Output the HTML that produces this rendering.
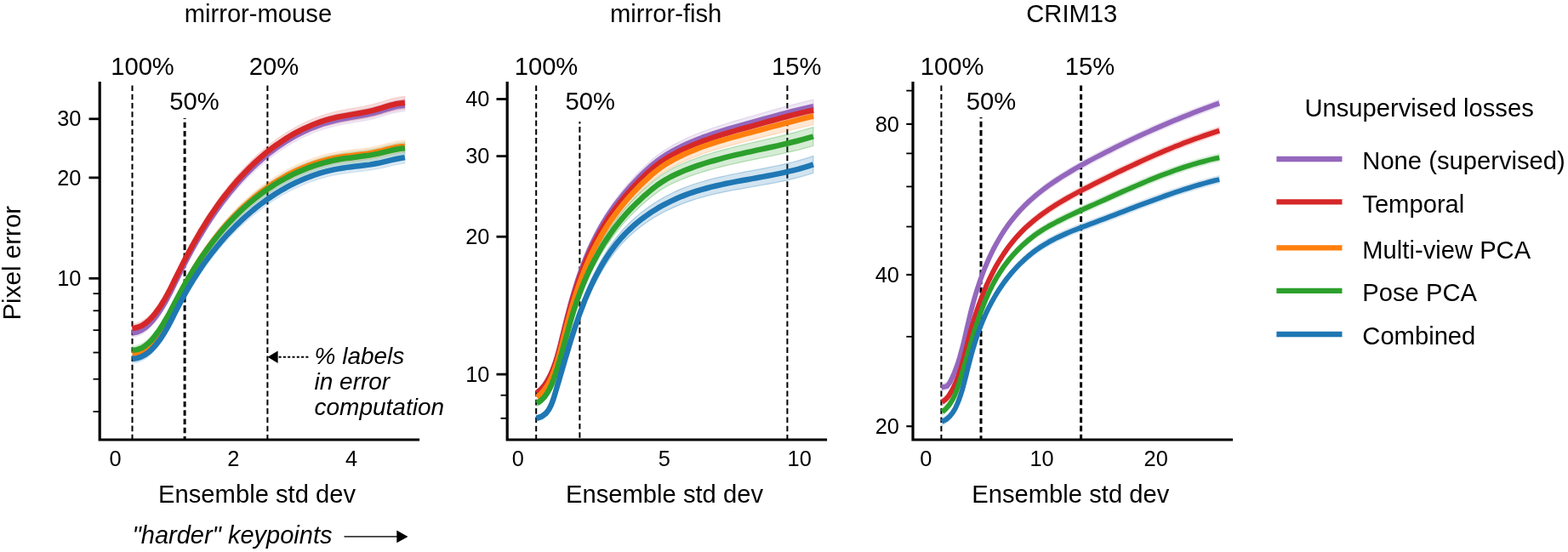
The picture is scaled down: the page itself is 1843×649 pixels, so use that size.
<!DOCTYPE html><html><head><meta charset="utf-8"><style>html,body{margin:0;padding:0;background:#fff;}svg{display:block;}text{font-family:"Liberation Sans", Arial, Helvetica, sans-serif;fill:#000;}</style></head><body>
<svg width="1843" height="649" viewBox="0 0 1843 649">
<rect width="1843" height="649" fill="#fff"/>
<text x="303.4" y="25.5" font-size="29.2" text-anchor="middle">mirror-mouse</text>
<text x="782.7" y="25.5" font-size="29.2" text-anchor="middle">mirror-fish</text>
<text x="1259.8" y="25.5" font-size="29.2" text-anchor="middle">CRIM13</text>
<text x="167.5" y="88.4" font-size="29.2" text-anchor="middle">100%</text>
<text x="228.4" y="129.0" font-size="29.2" text-anchor="middle">50%</text>
<text x="321.9" y="88.4" font-size="29.2" text-anchor="middle">20%</text>
<text x="642.0" y="88.2" font-size="29.2" text-anchor="middle">100%</text>
<text x="693.7" y="129.4" font-size="29.2" text-anchor="middle">50%</text>
<text x="936.2" y="88.2" font-size="29.2" text-anchor="middle">15%</text>
<text x="1119.2" y="88.2" font-size="29.2" text-anchor="middle">100%</text>
<text x="1165.0" y="129.4" font-size="29.2" text-anchor="middle">50%</text>
<text x="1280.9" y="88.2" font-size="29.2" text-anchor="middle">15%</text>
<line x1="155.5" y1="100.4" x2="155.5" y2="517.0" stroke="#000" stroke-width="2.0" stroke-dasharray="6.6 3.66" stroke-dashoffset="0.0"/>
<line x1="217.1" y1="139.1" x2="217.1" y2="517.0" stroke="#000" stroke-width="3.0" stroke-dasharray="6.6 3.66" stroke-dashoffset="5.7"/>
<line x1="314.4" y1="100.5" x2="314.4" y2="517.0" stroke="#000" stroke-width="2.0" stroke-dasharray="6.6 3.66" stroke-dashoffset="0.0"/>
<path d="M155.4,386.6 L161.3,385.2 L166.4,382.9 L171.0,379.8 L175.2,376.2 L178.9,372.1 L182.4,367.8 L185.6,363.3 L188.7,358.6 L191.6,353.9 L194.4,349.1 L197.1,344.2 L199.7,339.2 L202.2,334.2 L204.6,329.1 L207.1,324.0 L209.6,319.0 L212.0,313.9 L214.6,308.8 L217.1,303.8 L219.7,298.8 L222.3,293.8 L225.0,288.8 L227.7,283.9 L230.5,278.9 L233.3,274.1 L236.2,269.2 L239.1,264.4 L242.0,259.6 L245.1,254.8 L248.1,250.1 L251.3,245.5 L254.5,240.8 L257.7,236.2 L261.0,231.7 L264.4,227.2 L267.9,222.8 L271.4,218.4 L275.0,214.1 L278.6,209.8 L282.4,205.6 L286.2,201.5 L290.0,197.4 L294.0,193.4 L298.0,189.5 L302.1,185.7 L306.3,181.9 L310.6,178.3 L314.9,174.8 L319.3,171.3 L323.7,168.0 L328.3,164.8 L332.9,161.7 L337.6,158.7 L342.3,155.8 L347.1,153.1 L352.0,150.5 L357.0,148.0 L362.0,145.7 L367.1,143.5 L372.3,141.4 L377.5,139.5 L382.8,137.8 L388.2,136.2 L393.7,134.8 L399.2,133.6 L404.7,132.5 L410.3,131.4 L415.9,130.5 L421.5,129.5 L427.1,128.4 L432.7,127.3 L438.1,126.1 L443.5,124.6 L448.8,123.0 L454.1,121.4 L459.4,119.8 L464.7,118.4 L470.2,117.4 L475.9,116.8 L475.9,130.8 L470.2,131.4 L464.7,132.4 L459.4,133.7 L454.1,135.3 L448.8,136.9 L443.5,138.5 L438.1,139.9 L432.7,141.1 L427.1,142.2 L421.5,143.2 L415.9,144.1 L410.3,145.1 L404.7,146.0 L399.2,147.1 L393.7,148.3 L388.2,149.7 L382.8,151.3 L377.5,153.0 L372.3,154.8 L367.1,156.8 L362.0,159.0 L357.0,161.3 L352.0,163.8 L347.1,166.3 L342.3,169.1 L337.6,171.9 L332.9,174.9 L328.3,178.0 L323.7,181.2 L319.3,184.5 L314.9,187.9 L310.6,191.4 L306.3,195.0 L302.1,198.7 L298.0,202.5 L294.0,206.3 L290.0,210.2 L286.2,214.2 L282.4,218.3 L278.6,222.4 L275.0,226.6 L271.4,230.8 L267.9,235.1 L264.4,239.5 L261.0,243.9 L257.7,248.4 L254.5,252.9 L251.3,257.4 L248.1,262.1 L245.1,266.7 L242.0,271.4 L239.1,276.1 L236.2,280.9 L233.3,285.7 L230.5,290.5 L227.7,295.4 L225.0,300.3 L222.3,305.2 L219.7,310.1 L217.1,315.1 L214.6,320.1 L212.0,325.1 L209.6,330.1 L207.1,335.1 L204.6,340.1 L202.2,345.1 L199.7,350.1 L197.1,355.0 L194.4,359.9 L191.6,364.6 L188.7,369.3 L185.6,373.9 L182.4,378.3 L178.9,382.6 L175.2,386.6 L171.0,390.2 L166.4,393.1 L161.3,395.3 L155.4,396.6 Z" fill="#9467bd" fill-opacity="0.16" stroke="#9467bd" stroke-opacity="0.12" stroke-width="1.2"/>
<path d="M155.4,381.1 L161.3,379.9 L166.5,377.8 L171.1,374.8 L175.3,371.2 L179.1,367.2 L182.6,362.9 L185.9,358.5 L189.0,353.9 L191.9,349.2 L194.7,344.4 L197.4,339.5 L200.0,334.5 L202.5,329.5 L204.9,324.5 L207.4,319.5 L209.9,314.4 L212.4,309.4 L214.9,304.3 L217.4,299.3 L220.0,294.3 L222.7,289.4 L225.4,284.4 L228.1,279.5 L230.9,274.6 L233.7,269.7 L236.5,264.9 L239.5,260.1 L242.4,255.3 L245.4,250.6 L248.5,245.9 L251.7,241.3 L254.9,236.7 L258.1,232.1 L261.4,227.6 L264.8,223.2 L268.3,218.8 L271.8,214.4 L275.4,210.1 L279.0,205.9 L282.8,201.7 L286.6,197.6 L290.5,193.6 L294.4,189.6 L298.4,185.7 L302.5,181.9 L306.7,178.2 L311.0,174.6 L315.3,171.1 L319.7,167.6 L324.1,164.3 L328.7,161.1 L333.3,158.0 L337.9,155.0 L342.7,152.2 L347.5,149.4 L352.4,146.8 L357.3,144.4 L362.4,142.1 L367.4,139.9 L372.6,137.8 L377.8,136.0 L383.1,134.2 L388.5,132.7 L393.9,131.3 L399.4,130.1 L405.0,129.0 L410.6,127.9 L416.1,127.0 L421.7,126.0 L427.3,125.0 L432.8,123.8 L438.2,122.6 L443.6,121.1 L448.9,119.5 L454.1,117.9 L459.4,116.3 L464.8,114.9 L470.3,113.9 L475.9,113.3 L475.9,128.3 L470.3,128.8 L464.8,129.8 L459.4,131.1 L454.1,132.6 L448.9,134.2 L443.6,135.8 L438.2,137.1 L432.8,138.3 L427.3,139.4 L421.7,140.4 L416.1,141.3 L410.6,142.2 L405.0,143.2 L399.4,144.2 L393.9,145.4 L388.5,146.7 L383.1,148.2 L377.8,149.8 L372.6,151.7 L367.4,153.6 L362.4,155.8 L357.3,158.0 L352.4,160.4 L347.5,163.0 L342.7,165.7 L337.9,168.5 L333.3,171.4 L328.7,174.4 L324.1,177.6 L319.7,180.9 L315.3,184.2 L311.0,187.7 L306.7,191.3 L302.5,194.9 L298.4,198.7 L294.4,202.5 L290.5,206.4 L286.6,210.3 L282.8,214.4 L279.0,218.5 L275.4,222.6 L271.8,226.9 L268.3,231.1 L264.8,235.5 L261.4,239.8 L258.1,244.3 L254.9,248.8 L251.7,253.3 L248.5,257.9 L245.4,262.5 L242.4,267.2 L239.5,271.9 L236.5,276.6 L233.7,281.4 L230.9,286.2 L228.1,291.0 L225.4,295.9 L222.7,300.8 L220.0,305.7 L217.4,310.6 L214.9,315.6 L212.4,320.5 L209.9,325.5 L207.4,330.5 L204.9,335.5 L202.5,340.5 L200.0,345.5 L197.4,350.4 L194.7,355.2 L191.9,359.9 L189.0,364.6 L185.9,369.1 L182.6,373.5 L179.1,377.7 L175.3,381.7 L171.1,385.1 L166.5,388.0 L161.3,390.0 L155.4,391.1 Z" fill="#d62728" fill-opacity="0.16" stroke="#d62728" stroke-opacity="0.12" stroke-width="1.2"/>
<path d="M155.6,411.3 L161.3,410.4 L166.4,408.4 L170.8,405.6 L174.8,402.1 L178.4,398.1 L181.7,393.9 L184.8,389.5 L187.7,385.0 L190.5,380.4 L193.2,375.7 L195.8,371.0 L198.4,366.2 L200.9,361.4 L203.3,356.5 L205.7,351.6 L208.2,346.8 L210.7,341.9 L213.2,337.0 L215.8,332.2 L218.4,327.4 L221.1,322.6 L223.8,317.8 L226.6,313.1 L229.4,308.4 L232.3,303.7 L235.3,299.1 L238.3,294.5 L241.4,290.0 L244.5,285.5 L247.7,281.0 L251.0,276.7 L254.3,272.3 L257.7,268.0 L261.1,263.8 L264.6,259.6 L268.2,255.5 L271.9,251.5 L275.6,247.5 L279.4,243.6 L283.2,239.8 L287.2,236.0 L291.2,232.4 L295.3,228.8 L299.4,225.3 L303.6,221.9 L307.9,218.6 L312.3,215.4 L316.7,212.3 L321.2,209.3 L325.7,206.4 L330.4,203.6 L335.0,200.9 L339.8,198.3 L344.6,195.9 L349.4,193.6 L354.3,191.4 L359.3,189.3 L364.3,187.4 L369.4,185.6 L374.5,183.9 L379.7,182.4 L384.9,181.0 L390.2,179.8 L395.6,178.7 L400.9,177.7 L406.4,177.0 L411.8,176.3 L417.3,175.6 L422.7,175.0 L428.2,174.3 L433.6,173.5 L438.9,172.5 L444.2,171.4 L449.5,170.1 L454.7,168.8 L459.9,167.5 L465.1,166.3 L470.5,165.4 L475.9,164.9 L475.9,178.9 L470.5,179.4 L465.1,180.3 L459.9,181.4 L454.7,182.7 L449.5,184.0 L444.2,185.2 L438.9,186.3 L433.6,187.2 L428.2,188.0 L422.7,188.7 L417.3,189.3 L411.8,189.9 L406.4,190.6 L400.9,191.3 L395.6,192.2 L390.2,193.3 L384.9,194.5 L379.7,195.8 L374.5,197.3 L369.4,199.0 L364.3,200.7 L359.3,202.7 L354.3,204.7 L349.4,206.9 L344.6,209.2 L339.8,211.6 L335.0,214.1 L330.4,216.8 L325.7,219.5 L321.2,222.4 L316.7,225.4 L312.3,228.4 L307.9,231.6 L303.6,234.9 L299.4,238.2 L295.3,241.7 L291.2,245.2 L287.2,248.8 L283.2,252.4 L279.4,256.2 L275.6,260.0 L271.9,263.9 L268.2,267.9 L264.6,271.9 L261.1,276.0 L257.7,280.1 L254.3,284.4 L251.0,288.6 L247.7,293.0 L244.5,297.3 L241.4,301.8 L238.3,306.2 L235.3,310.8 L232.3,315.3 L229.4,319.9 L226.6,324.6 L223.8,329.2 L221.1,333.9 L218.4,338.7 L215.8,343.4 L213.2,348.2 L210.7,353.0 L208.2,357.9 L205.7,362.7 L203.3,367.5 L200.9,372.3 L198.4,377.1 L195.8,381.8 L193.2,386.5 L190.5,391.1 L187.7,395.7 L184.8,400.1 L181.7,404.4 L178.4,408.6 L174.8,412.5 L170.8,415.9 L166.4,418.6 L161.3,420.5 L155.6,421.3 Z" fill="#ff7f0e" fill-opacity="0.16" stroke="#ff7f0e" stroke-opacity="0.12" stroke-width="1.2"/>
<path d="M155.6,406.9 L161.2,406.0 L166.3,404.1 L170.7,401.4 L174.7,398.1 L178.4,394.3 L181.7,390.2 L184.9,386.0 L187.9,381.7 L190.8,377.2 L193.5,372.6 L196.2,368.0 L198.8,363.3 L201.3,358.6 L203.8,353.8 L206.3,349.0 L208.8,344.2 L211.3,339.4 L213.9,334.6 L216.5,329.9 L219.2,325.2 L221.9,320.5 L224.7,315.8 L227.5,311.2 L230.4,306.6 L233.3,302.1 L236.3,297.5 L239.4,293.1 L242.5,288.6 L245.7,284.3 L248.9,279.9 L252.2,275.6 L255.5,271.4 L258.9,267.2 L262.4,263.1 L266.0,259.1 L269.6,255.1 L273.3,251.2 L277.0,247.3 L280.8,243.6 L284.7,239.8 L288.7,236.2 L292.7,232.7 L296.8,229.2 L300.9,225.8 L305.2,222.6 L309.5,219.4 L313.8,216.3 L318.3,213.3 L322.7,210.4 L327.3,207.7 L331.9,205.0 L336.6,202.4 L341.3,199.9 L346.0,197.6 L350.9,195.4 L355.8,193.3 L360.7,191.3 L365.7,189.4 L370.7,187.7 L375.8,186.0 L380.9,184.6 L386.1,183.2 L391.3,182.0 L396.6,181.0 L401.9,180.0 L407.3,179.2 L412.6,178.5 L418.0,177.9 L423.4,177.2 L428.7,176.5 L434.1,175.7 L439.4,174.8 L444.6,173.7 L449.8,172.4 L454.9,171.1 L460.1,169.9 L465.3,168.7 L470.6,167.8 L475.9,167.2 L475.9,181.2 L470.6,181.8 L465.3,182.7 L460.1,183.8 L454.9,185.0 L449.8,186.3 L444.6,187.5 L439.4,188.5 L434.1,189.4 L428.7,190.2 L423.4,190.9 L418.0,191.5 L412.6,192.2 L407.3,192.9 L401.9,193.6 L396.6,194.5 L391.3,195.5 L386.1,196.7 L380.9,198.0 L375.8,199.5 L370.7,201.1 L365.7,202.8 L360.7,204.6 L355.8,206.6 L350.9,208.7 L346.0,210.9 L341.3,213.2 L336.6,215.6 L331.9,218.2 L327.3,220.8 L322.7,223.6 L318.3,226.4 L313.8,229.4 L309.5,232.4 L305.2,235.6 L300.9,238.8 L296.8,242.1 L292.7,245.5 L288.7,249.0 L284.7,252.5 L280.8,256.2 L277.0,259.9 L273.3,263.6 L269.6,267.5 L266.0,271.4 L262.4,275.4 L258.9,279.4 L255.5,283.5 L252.2,287.6 L248.9,291.9 L245.7,296.1 L242.5,300.4 L239.4,304.8 L236.3,309.2 L233.3,313.7 L230.4,318.2 L227.5,322.7 L224.7,327.3 L221.9,331.9 L219.2,336.5 L216.5,341.2 L213.9,345.9 L211.3,350.6 L208.8,355.3 L206.3,360.1 L203.8,364.8 L201.3,369.5 L198.8,374.2 L196.2,378.9 L193.5,383.4 L190.8,387.9 L187.9,392.3 L184.9,396.6 L181.7,400.8 L178.4,404.8 L174.7,408.5 L170.7,411.7 L166.3,414.3 L161.2,416.1 L155.6,416.9 Z" fill="#2ca02c" fill-opacity="0.16" stroke="#2ca02c" stroke-opacity="0.12" stroke-width="1.2"/>
<path d="M155.6,417.0 L161.2,416.1 L166.2,414.2 L170.8,411.7 L175.0,408.6 L178.8,405.0 L182.3,401.2 L185.6,397.1 L188.7,392.9 L191.6,388.5 L194.3,383.9 L197.0,379.3 L199.5,374.6 L202.0,369.8 L204.4,364.9 L206.8,360.1 L209.3,355.2 L211.7,350.4 L214.3,345.6 L216.9,340.8 L219.5,336.1 L222.2,331.4 L225.0,326.7 L227.8,322.1 L230.7,317.6 L233.6,313.0 L236.6,308.6 L239.7,304.1 L242.8,299.8 L246.0,295.4 L249.3,291.1 L252.6,286.9 L255.9,282.7 L259.4,278.6 L262.9,274.5 L266.4,270.5 L270.1,266.5 L273.8,262.6 L277.5,258.8 L281.4,255.0 L285.3,251.3 L289.2,247.7 L293.3,244.1 L297.4,240.6 L301.5,237.2 L305.7,234.0 L310.0,230.8 L314.3,227.7 L318.7,224.7 L323.2,221.8 L327.7,218.9 L332.2,216.2 L336.9,213.6 L341.6,211.1 L346.3,208.8 L351.1,206.5 L355.9,204.4 L360.8,202.4 L365.8,200.5 L370.8,198.7 L375.9,197.1 L381.0,195.6 L386.1,194.2 L391.4,193.0 L396.6,191.9 L401.9,191.0 L407.3,190.2 L412.7,189.5 L418.1,188.9 L423.4,188.3 L428.8,187.6 L434.2,186.9 L439.5,186.0 L444.7,185.0 L449.9,183.9 L455.1,182.7 L460.2,181.4 L465.4,180.3 L470.6,179.2 L475.9,178.3 L475.9,191.9 L470.6,192.8 L465.4,193.8 L460.2,195.0 L455.1,196.2 L449.9,197.4 L444.7,198.5 L439.5,199.5 L434.2,200.3 L428.8,201.0 L423.4,201.7 L418.1,202.3 L412.7,202.9 L407.3,203.6 L401.9,204.4 L396.6,205.3 L391.4,206.3 L386.1,207.5 L381.0,208.9 L375.9,210.3 L370.8,211.9 L365.8,213.7 L360.8,215.6 L355.9,217.6 L351.1,219.7 L346.3,221.9 L341.6,224.3 L336.9,226.8 L332.2,229.3 L327.7,232.0 L323.2,234.8 L318.7,237.7 L314.3,240.7 L310.0,243.8 L305.7,247.0 L301.5,250.3 L297.4,253.6 L293.3,257.0 L289.2,260.5 L285.3,264.0 L281.4,267.6 L277.5,271.3 L273.8,275.1 L270.1,278.9 L266.4,282.8 L262.9,286.7 L259.4,290.7 L255.9,294.8 L252.6,298.9 L249.3,303.1 L246.0,307.3 L242.8,311.6 L239.7,315.9 L236.6,320.3 L233.6,324.7 L230.7,329.1 L227.8,333.6 L225.0,338.2 L222.2,342.8 L219.5,347.4 L216.9,352.1 L214.3,356.8 L211.7,361.5 L209.3,366.3 L206.8,371.1 L204.4,375.9 L202.0,380.7 L199.5,385.5 L197.0,390.2 L194.3,394.7 L191.6,399.2 L188.7,403.6 L185.6,407.7 L182.3,411.7 L178.8,415.5 L175.0,419.0 L170.8,422.0 L166.2,424.5 L161.2,426.2 L155.6,427.0 Z" fill="#1f77b4" fill-opacity="0.16" stroke="#1f77b4" stroke-opacity="0.12" stroke-width="1.2"/>
<path d="M155.4,391.6 L161.3,390.3 L166.4,388.0 L171.0,385.0 L175.2,381.4 L178.9,377.4 L182.4,373.0 L185.6,368.6 L188.7,364.0 L191.6,359.3 L194.4,354.5 L197.1,349.6 L199.7,344.6 L202.2,339.7 L204.6,334.6 L207.1,329.6 L209.6,324.5 L212.0,319.5 L214.6,314.5 L217.1,309.4 L219.7,304.5 L222.3,299.5 L225.0,294.5 L227.7,289.6 L230.5,284.7 L233.3,279.9 L236.2,275.0 L239.1,270.2 L242.0,265.5 L245.1,260.8 L248.1,256.1 L251.3,251.4 L254.5,246.9 L257.7,242.3 L261.0,237.8 L264.4,233.4 L267.9,229.0 L271.4,224.6 L275.0,220.3 L278.6,216.1 L282.4,211.9 L286.2,207.8 L290.0,203.8 L294.0,199.9 L298.0,196.0 L302.1,192.2 L306.3,188.5 L310.6,184.8 L314.9,181.3 L319.3,177.9 L323.7,174.6 L328.3,171.4 L332.9,168.3 L337.6,165.3 L342.3,162.4 L347.1,159.7 L352.0,157.1 L357.0,154.6 L362.0,152.3 L367.1,150.1 L372.3,148.1 L377.5,146.2 L382.8,144.5 L388.2,143.0 L393.7,141.6 L399.2,140.3 L404.7,139.3 L410.3,138.2 L415.9,137.3 L421.5,136.3 L427.1,135.3 L432.7,134.2 L438.1,133.0 L443.5,131.5 L448.8,130.0 L454.1,128.3 L459.4,126.8 L464.7,125.4 L470.2,124.4 L475.9,123.8" fill="none" stroke="#9467bd" stroke-width="6.5" stroke-linecap="butt" stroke-linejoin="round"/>
<path d="M155.4,386.1 L161.3,385.0 L166.5,382.9 L171.1,380.0 L175.3,376.4 L179.1,372.5 L182.6,368.2 L185.9,363.8 L189.0,359.2 L191.9,354.6 L194.7,349.8 L197.4,344.9 L200.0,340.0 L202.5,335.0 L204.9,330.0 L207.4,325.0 L209.9,320.0 L212.4,315.0 L214.9,309.9 L217.4,305.0 L220.0,300.0 L222.7,295.1 L225.4,290.1 L228.1,285.2 L230.9,280.4 L233.7,275.5 L236.5,270.7 L239.5,266.0 L242.4,261.3 L245.4,256.6 L248.5,251.9 L251.7,247.3 L254.9,242.7 L258.1,238.2 L261.4,233.7 L264.8,229.3 L268.3,225.0 L271.8,220.6 L275.4,216.4 L279.0,212.2 L282.8,208.0 L286.6,204.0 L290.5,200.0 L294.4,196.0 L298.4,192.2 L302.5,188.4 L306.7,184.7 L311.0,181.1 L315.3,177.6 L319.7,174.2 L324.1,171.0 L328.7,167.8 L333.3,164.7 L337.9,161.7 L342.7,158.9 L347.5,156.2 L352.4,153.6 L357.3,151.2 L362.4,148.9 L367.4,146.8 L372.6,144.8 L377.8,142.9 L383.1,141.2 L388.5,139.7 L393.9,138.3 L399.4,137.1 L405.0,136.1 L410.6,135.1 L416.1,134.1 L421.7,133.2 L427.3,132.2 L432.8,131.1 L438.2,129.9 L443.6,128.4 L448.9,126.9 L454.1,125.2 L459.4,123.7 L464.8,122.3 L470.3,121.4 L475.9,120.8" fill="none" stroke="#d62728" stroke-width="6.5" stroke-linecap="butt" stroke-linejoin="round"/>
<path d="M155.6,416.3 L161.3,415.4 L166.4,413.5 L170.8,410.7 L174.8,407.3 L178.4,403.4 L181.7,399.2 L184.8,394.8 L187.7,390.3 L190.5,385.8 L193.2,381.1 L195.8,376.4 L198.4,371.7 L200.9,366.9 L203.3,362.0 L205.7,357.2 L208.2,352.3 L210.7,347.5 L213.2,342.6 L215.8,337.8 L218.4,333.0 L221.1,328.3 L223.8,323.5 L226.6,318.8 L229.4,314.2 L232.3,309.5 L235.3,304.9 L238.3,300.4 L241.4,295.9 L244.5,291.4 L247.7,287.0 L251.0,282.6 L254.3,278.3 L257.7,274.1 L261.1,269.9 L264.6,265.8 L268.2,261.7 L271.9,257.7 L275.6,253.8 L279.4,249.9 L283.2,246.1 L287.2,242.4 L291.2,238.8 L295.3,235.2 L299.4,231.7 L303.6,228.4 L307.9,225.1 L312.3,221.9 L316.7,218.8 L321.2,215.8 L325.7,212.9 L330.4,210.2 L335.0,207.5 L339.8,205.0 L344.6,202.5 L349.4,200.2 L354.3,198.0 L359.3,196.0 L364.3,194.1 L369.4,192.3 L374.5,190.6 L379.7,189.1 L384.9,187.7 L390.2,186.5 L395.6,185.5 L400.9,184.5 L406.4,183.8 L411.8,183.1 L417.3,182.4 L422.7,181.8 L428.2,181.1 L433.6,180.4 L438.9,179.4 L444.2,178.3 L449.5,177.1 L454.7,175.7 L459.9,174.4 L465.1,173.3 L470.5,172.4 L475.9,171.9" fill="none" stroke="#ff7f0e" stroke-width="6.5" stroke-linecap="butt" stroke-linejoin="round"/>
<path d="M155.6,411.9 L161.2,411.1 L166.3,409.2 L170.7,406.6 L174.7,403.3 L178.4,399.6 L181.7,395.5 L184.9,391.3 L187.9,387.0 L190.8,382.6 L193.5,378.0 L196.2,373.4 L198.8,368.8 L201.3,364.1 L203.8,359.3 L206.3,354.5 L208.8,349.8 L211.3,345.0 L213.9,340.3 L216.5,335.5 L219.2,330.8 L221.9,326.2 L224.7,321.6 L227.5,317.0 L230.4,312.4 L233.3,307.9 L236.3,303.4 L239.4,298.9 L242.5,294.5 L245.7,290.2 L248.9,285.9 L252.2,281.6 L255.5,277.5 L258.9,273.3 L262.4,269.2 L266.0,265.2 L269.6,261.3 L273.3,257.4 L277.0,253.6 L280.8,249.9 L284.7,246.2 L288.7,242.6 L292.7,239.1 L296.8,235.7 L300.9,232.3 L305.2,229.1 L309.5,225.9 L313.8,222.8 L318.3,219.9 L322.7,217.0 L327.3,214.2 L331.9,211.6 L336.6,209.0 L341.3,206.6 L346.0,204.2 L350.9,202.0 L355.8,199.9 L360.7,197.9 L365.7,196.1 L370.7,194.4 L375.8,192.8 L380.9,191.3 L386.1,190.0 L391.3,188.8 L396.6,187.7 L401.9,186.8 L407.3,186.0 L412.6,185.4 L418.0,184.7 L423.4,184.0 L428.7,183.3 L434.1,182.6 L439.4,181.6 L444.6,180.6 L449.8,179.3 L454.9,178.1 L460.1,176.8 L465.3,175.7 L470.6,174.8 L475.9,174.2" fill="none" stroke="#2ca02c" stroke-width="6.5" stroke-linecap="butt" stroke-linejoin="round"/>
<path d="M155.6,422.0 L161.2,421.1 L166.2,419.4 L170.8,416.9 L175.0,413.8 L178.8,410.3 L182.3,406.5 L185.6,402.4 L188.7,398.2 L191.6,393.8 L194.3,389.3 L197.0,384.7 L199.5,380.0 L202.0,375.2 L204.4,370.4 L206.8,365.6 L209.3,360.8 L211.7,356.0 L214.3,351.2 L216.9,346.5 L219.5,341.8 L222.2,337.1 L225.0,332.5 L227.8,327.9 L230.7,323.4 L233.6,318.9 L236.6,314.4 L239.7,310.0 L242.8,305.7 L246.0,301.4 L249.3,297.1 L252.6,292.9 L255.9,288.8 L259.4,284.7 L262.9,280.6 L266.4,276.7 L270.1,272.7 L273.8,268.9 L277.5,265.1 L281.4,261.3 L285.3,257.7 L289.2,254.1 L293.3,250.6 L297.4,247.1 L301.5,243.8 L305.7,240.5 L310.0,237.3 L314.3,234.2 L318.7,231.2 L323.2,228.3 L327.7,225.5 L332.2,222.8 L336.9,220.2 L341.6,217.7 L346.3,215.3 L351.1,213.1 L355.9,211.0 L360.8,209.0 L365.8,207.1 L370.8,205.3 L375.9,203.7 L381.0,202.2 L386.1,200.9 L391.4,199.7 L396.6,198.6 L401.9,197.7 L407.3,196.9 L412.7,196.2 L418.1,195.6 L423.4,195.0 L428.8,194.3 L434.2,193.6 L439.5,192.7 L444.7,191.8 L449.9,190.6 L455.1,189.4 L460.2,188.2 L465.4,187.0 L470.6,186.0 L475.9,185.1" fill="none" stroke="#1f77b4" stroke-width="6.5" stroke-linecap="butt" stroke-linejoin="round"/>
<line x1="630.2" y1="100.5" x2="630.2" y2="517.0" stroke="#000" stroke-width="2.0" stroke-dasharray="6.6 3.66" stroke-dashoffset="0.0"/>
<line x1="681.4" y1="143.1" x2="681.4" y2="517.0" stroke="#000" stroke-width="2.0" stroke-dasharray="6.6 3.66" stroke-dashoffset="4.3"/>
<line x1="925.4" y1="100.5" x2="925.4" y2="517.0" stroke="#000" stroke-width="2.0" stroke-dasharray="6.6 3.66" stroke-dashoffset="0.0"/>
<path d="M631.2,458.9 L636.0,454.6 L640.0,449.7 L643.4,444.3 L646.4,438.6 L649.0,432.7 L651.3,426.7 L653.4,420.5 L655.3,414.3 L657.0,408.0 L658.7,401.6 L660.2,395.2 L661.8,388.7 L663.3,382.3 L664.9,375.9 L666.4,369.5 L668.1,363.1 L669.7,356.8 L671.4,350.5 L673.2,344.2 L675.0,337.9 L676.9,331.7 L678.8,325.4 L680.8,319.3 L683.0,313.1 L685.2,307.0 L687.5,301.0 L689.9,295.0 L692.4,289.0 L695.0,283.0 L697.8,277.2 L700.7,271.3 L703.7,265.6 L706.8,260.0 L710.2,254.4 L713.6,248.9 L717.2,243.5 L720.9,238.1 L724.8,232.8 L728.8,227.6 L732.9,222.5 L737.1,217.5 L741.4,212.6 L745.8,207.7 L750.3,203.0 L754.9,198.4 L759.6,194.0 L764.3,189.6 L769.2,185.5 L774.2,181.5 L779.4,177.8 L784.7,174.4 L790.2,171.1 L795.9,168.1 L801.6,165.2 L807.4,162.4 L813.3,159.8 L819.3,157.3 L825.3,155.0 L831.4,152.7 L837.6,150.5 L843.8,148.5 L850.0,146.5 L856.3,144.5 L862.5,142.6 L868.8,140.8 L875.0,139.0 L881.3,137.2 L887.5,135.5 L893.7,133.7 L899.9,131.9 L906.0,130.2 L912.1,128.4 L918.3,126.7 L924.5,125.0 L930.7,123.4 L936.9,121.8 L943.2,120.2 L949.6,118.7 L956.0,117.2 L956.0,133.2 L949.6,134.6 L943.2,136.0 L936.9,137.5 L930.7,139.0 L924.5,140.6 L918.3,142.1 L912.1,143.8 L906.0,145.4 L899.9,147.1 L893.7,148.7 L887.5,150.4 L881.3,152.1 L875.0,153.7 L868.8,155.4 L862.5,157.2 L856.3,159.0 L850.0,160.8 L843.8,162.7 L837.6,164.7 L831.4,166.8 L825.3,168.9 L819.3,171.2 L813.3,173.6 L807.4,176.1 L801.6,178.8 L795.9,181.6 L790.2,184.6 L784.7,187.7 L779.4,191.1 L774.2,194.7 L769.2,198.5 L764.3,202.6 L759.6,206.9 L754.9,211.3 L750.3,215.8 L745.8,220.5 L741.4,225.2 L737.1,230.1 L732.9,235.0 L728.8,240.1 L724.8,245.2 L720.9,250.5 L717.2,255.8 L713.6,261.1 L710.2,266.6 L706.8,272.1 L703.7,277.7 L700.7,283.3 L697.8,289.0 L695.0,294.6 L692.4,300.3 L689.9,306.1 L687.5,311.9 L685.2,317.8 L683.0,323.7 L680.8,329.6 L678.8,335.6 L676.9,341.7 L675.0,347.8 L673.2,353.9 L671.4,360.0 L669.7,366.2 L668.1,372.4 L666.4,378.6 L664.9,384.9 L663.3,391.2 L661.8,397.5 L660.2,403.8 L658.7,410.0 L657.0,416.3 L655.3,422.5 L653.4,428.6 L651.3,434.5 L649.0,440.4 L646.4,446.0 L643.4,451.5 L640.0,456.5 L636.0,461.1 L631.2,465.0 Z" fill="#9467bd" fill-opacity="0.16" stroke="#9467bd" stroke-opacity="0.20" stroke-width="1.2"/>
<path d="M631.1,458.9 L636.0,454.7 L640.1,450.0 L643.5,444.7 L646.5,439.2 L649.1,433.4 L651.4,427.4 L653.5,421.4 L655.4,415.2 L657.2,408.9 L658.8,402.6 L660.4,396.3 L661.9,389.9 L663.5,383.5 L665.1,377.2 L666.7,370.9 L668.3,364.6 L670.0,358.4 L671.8,352.1 L673.5,345.9 L675.4,339.8 L677.3,333.6 L679.3,327.5 L681.4,321.5 L683.6,315.4 L685.9,309.4 L688.2,303.5 L690.7,297.6 L693.2,291.7 L695.9,285.9 L698.7,280.1 L701.7,274.4 L704.8,268.8 L708.0,263.3 L711.3,257.8 L714.8,252.3 L718.4,247.0 L722.2,241.7 L726.1,236.5 L730.1,231.3 L734.2,226.3 L738.4,221.3 L742.7,216.5 L747.1,211.7 L751.6,207.1 L756.2,202.5 L760.8,198.1 L765.5,193.9 L770.4,189.8 L775.4,185.9 L780.6,182.3 L785.9,178.9 L791.4,175.8 L797.0,172.8 L802.7,169.9 L808.5,167.2 L814.4,164.7 L820.3,162.2 L826.3,159.9 L832.4,157.7 L838.5,155.5 L844.7,153.5 L850.8,151.5 L857.0,149.6 L863.3,147.7 L869.5,145.9 L875.7,144.1 L881.9,142.4 L888.0,140.6 L894.2,138.9 L900.3,137.1 L906.4,135.4 L912.5,133.7 L918.6,132.0 L924.7,130.3 L930.9,128.6 L937.1,127.0 L943.3,125.5 L949.6,124.0 L956.0,122.5 L956.0,136.5 L949.6,137.9 L943.3,139.3 L937.1,140.7 L930.9,142.2 L924.7,143.8 L918.6,145.4 L912.5,147.0 L906.4,148.6 L900.3,150.2 L894.2,151.9 L888.0,153.5 L881.9,155.2 L875.7,156.9 L869.5,158.6 L863.3,160.3 L857.0,162.0 L850.8,163.9 L844.7,165.7 L838.5,167.7 L832.4,169.7 L826.3,171.9 L820.3,174.1 L814.4,176.5 L808.5,178.9 L802.7,181.5 L797.0,184.3 L791.4,187.2 L785.9,190.3 L780.6,193.6 L775.4,197.1 L770.4,200.9 L765.5,204.9 L760.8,209.1 L756.2,213.4 L751.6,217.9 L747.1,222.4 L742.7,227.1 L738.4,231.9 L734.2,236.8 L730.1,241.8 L726.1,246.9 L722.2,252.0 L718.4,257.3 L714.8,262.6 L711.3,267.9 L708.0,273.4 L704.8,278.9 L701.7,284.4 L698.7,290.0 L695.9,295.6 L693.2,301.3 L690.7,307.0 L688.2,312.8 L685.9,318.6 L683.6,324.5 L681.4,330.4 L679.3,336.3 L677.3,342.3 L675.4,348.4 L673.5,354.4 L671.8,360.5 L670.0,366.7 L668.3,372.8 L666.7,379.0 L665.1,385.2 L663.5,391.5 L661.9,397.7 L660.4,404.0 L658.8,410.3 L657.2,416.5 L655.4,422.6 L653.5,428.7 L651.4,434.7 L649.1,440.5 L646.5,446.1 L643.5,451.5 L640.1,456.5 L636.0,461.1 L631.1,465.0 Z" fill="#d62728" fill-opacity="0.16" stroke="#d62728" stroke-opacity="0.20" stroke-width="1.2"/>
<path d="M631.2,463.8 L636.0,459.6 L640.0,454.7 L643.5,449.5 L646.4,443.8 L649.0,437.9 L651.3,431.9 L653.4,425.8 L655.4,419.6 L657.2,413.3 L658.8,407.0 L660.5,400.7 L662.0,394.3 L663.6,387.9 L665.2,381.6 L666.8,375.3 L668.5,369.0 L670.2,362.7 L671.9,356.4 L673.8,350.2 L675.6,344.0 L677.6,337.8 L679.6,331.7 L681.7,325.5 L683.9,319.5 L686.2,313.4 L688.6,307.4 L691.1,301.5 L693.6,295.6 L696.3,289.7 L699.2,283.9 L702.1,278.2 L705.2,272.6 L708.4,267.0 L711.7,261.6 L715.2,256.1 L718.8,250.8 L722.6,245.5 L726.5,240.3 L730.5,235.2 L734.6,230.1 L738.8,225.2 L743.1,220.3 L747.5,215.6 L752.0,211.0 L756.6,206.4 L761.2,202.0 L765.9,197.8 L770.8,193.7 L775.7,189.8 L780.9,186.2 L786.2,182.8 L791.7,179.6 L797.2,176.6 L802.9,173.8 L808.7,171.1 L814.6,168.5 L820.5,166.1 L826.5,163.8 L832.6,161.6 L838.7,159.5 L844.9,157.5 L851.1,155.6 L857.3,153.7 L863.5,151.9 L869.7,150.1 L875.9,148.4 L882.1,146.6 L888.3,144.9 L894.4,143.2 L900.5,141.5 L906.6,139.8 L912.7,138.1 L918.8,136.4 L924.9,134.7 L931.0,133.1 L937.2,131.4 L943.4,129.8 L949.7,128.1 L956.0,126.5 L956.0,146.5 L949.7,148.0 L943.4,149.5 L937.2,151.0 L931.0,152.5 L924.9,154.0 L918.8,155.6 L912.7,157.1 L906.6,158.7 L900.5,160.2 L894.4,161.8 L888.3,163.4 L882.1,164.9 L875.9,166.5 L869.7,168.1 L863.5,169.7 L857.3,171.4 L851.1,173.1 L844.9,174.9 L838.7,176.8 L832.6,178.7 L826.5,180.8 L820.5,182.9 L814.6,185.2 L808.7,187.6 L802.9,190.2 L797.2,192.9 L791.7,195.8 L786.2,198.8 L780.9,202.1 L775.7,205.6 L770.8,209.3 L765.9,213.3 L761.2,217.5 L756.6,221.8 L752.0,226.2 L747.5,230.7 L743.1,235.4 L738.8,240.1 L734.6,244.9 L730.5,249.9 L726.5,254.9 L722.6,260.0 L718.8,265.2 L715.2,270.5 L711.7,275.8 L708.4,281.2 L705.2,286.7 L702.1,292.2 L699.2,297.8 L696.3,303.3 L693.6,308.8 L691.1,314.5 L688.6,320.1 L686.2,325.9 L683.9,331.6 L681.7,337.5 L679.6,343.3 L677.6,349.2 L675.6,355.2 L673.8,361.2 L671.9,367.2 L670.2,373.3 L668.5,379.4 L666.8,385.5 L665.2,391.6 L663.6,397.8 L662.0,404.0 L660.5,410.2 L658.8,416.3 L657.2,422.4 L655.4,428.5 L653.4,434.5 L651.3,440.4 L649.0,446.1 L646.4,451.7 L643.5,457.0 L640.0,461.9 L636.0,466.2 L631.2,469.9 Z" fill="#ff7f0e" fill-opacity="0.18" stroke="#ff7f0e" stroke-opacity="0.22" stroke-width="1.2"/>
<path d="M631.2,471.1 L636.1,467.3 L640.2,462.8 L643.6,457.8 L646.5,452.3 L649.0,446.5 L651.2,440.5 L653.2,434.4 L655.1,428.3 L656.9,422.2 L658.7,416.1 L660.4,409.9 L662.1,403.8 L663.8,397.6 L665.4,391.4 L667.1,385.3 L668.7,379.2 L670.4,373.0 L672.2,366.9 L674.0,360.8 L675.9,354.7 L677.9,348.7 L680.0,342.7 L682.2,336.7 L684.4,330.7 L686.8,324.8 L689.3,319.0 L691.8,313.1 L694.5,307.4 L697.3,301.6 L700.2,296.0 L703.2,290.4 L706.3,285.0 L709.5,279.6 L712.9,274.3 L716.4,269.1 L720.0,263.9 L723.7,258.9 L727.5,253.9 L731.5,249.0 L735.6,244.2 L739.8,239.5 L744.2,234.8 L748.7,230.3 L753.3,225.9 L757.9,221.6 L762.7,217.4 L767.5,213.3 L772.4,209.4 L777.5,205.7 L782.7,202.4 L788.1,199.3 L793.7,196.4 L799.3,193.7 L805.0,191.2 L810.8,188.9 L816.6,186.7 L822.5,184.6 L828.4,182.6 L834.4,180.7 L840.4,178.9 L846.4,177.2 L852.5,175.6 L858.6,174.0 L864.7,172.4 L870.8,170.9 L876.9,169.4 L883.1,168.0 L889.2,166.6 L895.4,165.2 L901.5,163.7 L907.6,162.3 L913.8,160.9 L919.9,159.4 L926.0,157.9 L932.0,156.3 L938.0,154.7 L944.0,153.0 L950.0,151.3 L955.9,149.5 L955.9,171.5 L950.0,173.1 L944.0,174.7 L938.0,176.3 L932.0,177.7 L926.0,179.1 L919.9,180.5 L913.8,181.8 L907.6,183.1 L901.5,184.3 L895.4,185.6 L889.2,186.9 L883.1,188.1 L876.9,189.4 L870.8,190.7 L864.7,192.1 L858.6,193.5 L852.5,194.9 L846.4,196.4 L840.4,198.0 L834.4,199.6 L828.4,201.4 L822.5,203.2 L816.6,205.1 L810.8,207.2 L805.0,209.4 L799.3,211.7 L793.7,214.1 L788.1,216.8 L782.7,219.7 L777.5,222.8 L772.4,226.3 L767.5,230.0 L762.7,233.9 L757.9,237.9 L753.3,242.0 L748.7,246.3 L744.2,250.6 L739.8,255.1 L735.6,259.6 L731.5,264.2 L727.5,269.0 L723.7,273.8 L720.0,278.7 L716.4,283.8 L712.9,288.8 L709.5,294.0 L706.3,299.3 L703.2,304.6 L700.2,310.0 L697.3,315.3 L694.5,320.7 L691.8,326.2 L689.3,331.7 L686.8,337.3 L684.4,343.0 L682.2,348.7 L680.0,354.4 L677.9,360.2 L675.9,366.0 L674.0,371.8 L672.2,377.7 L670.4,383.6 L668.7,389.6 L667.1,395.5 L665.4,401.5 L663.8,407.5 L662.1,413.4 L660.4,419.4 L658.7,425.3 L656.9,431.3 L655.1,437.2 L653.2,443.1 L651.2,449.0 L649.0,454.7 L646.5,460.2 L643.6,465.3 L640.2,470.0 L636.1,474.0 L631.2,477.3 Z" fill="#2ca02c" fill-opacity="0.20" stroke="#2ca02c" stroke-opacity="0.30" stroke-width="1.2"/>
<path d="M630.6,488.8 L636.8,486.3 L641.5,482.5 L645.1,477.7 L647.8,472.2 L650.0,466.3 L651.9,460.2 L653.7,454.1 L655.4,448.0 L657.2,442.0 L658.9,436.1 L660.6,430.1 L662.3,424.2 L664.0,418.2 L665.8,412.3 L667.5,406.4 L669.2,400.5 L671.0,394.6 L672.9,388.7 L674.7,382.7 L676.7,376.7 L678.7,370.8 L680.7,364.8 L682.9,358.8 L685.1,352.9 L687.3,346.9 L689.7,341.0 L692.2,335.2 L694.7,329.4 L697.4,323.6 L700.2,317.9 L703.1,312.4 L706.1,306.9 L709.2,301.6 L712.4,296.3 L715.8,291.1 L719.3,286.1 L723.0,281.1 L726.8,276.3 L730.8,271.6 L734.9,267.1 L739.2,262.7 L743.7,258.5 L748.3,254.4 L753.0,250.4 L757.9,246.7 L762.9,243.0 L768.0,239.6 L773.2,236.3 L778.6,233.1 L784.0,230.1 L789.5,227.3 L795.1,224.6 L800.7,222.1 L806.5,219.8 L812.2,217.7 L818.0,215.8 L823.9,214.0 L829.8,212.3 L835.7,210.7 L841.7,209.2 L847.7,207.8 L853.7,206.5 L859.7,205.2 L865.8,204.0 L871.9,202.8 L877.9,201.7 L884.0,200.6 L890.1,199.4 L896.2,198.3 L902.3,197.1 L908.3,195.9 L914.4,194.7 L920.4,193.3 L926.4,191.9 L932.3,190.5 L938.3,188.9 L944.2,187.2 L950.1,185.4 L955.9,183.4 L955.9,203.4 L950.1,205.3 L944.2,207.0 L938.3,208.6 L932.3,210.2 L926.4,211.6 L920.4,212.9 L914.4,214.1 L908.3,215.3 L902.3,216.4 L896.2,217.5 L890.1,218.6 L884.0,219.6 L877.9,220.7 L871.9,221.8 L865.8,222.9 L859.7,224.0 L853.7,225.2 L847.7,226.4 L841.7,227.7 L835.7,229.1 L829.8,230.6 L823.9,232.3 L818.0,234.0 L812.2,235.9 L806.5,237.9 L800.7,240.1 L795.1,242.4 L789.5,244.9 L784.0,247.5 L778.6,250.2 L773.2,253.2 L768.0,256.3 L762.9,259.6 L757.9,263.0 L753.0,266.6 L748.3,270.3 L743.7,274.2 L739.2,278.3 L734.9,282.5 L730.8,286.9 L726.8,291.4 L723.0,296.0 L719.3,300.8 L715.8,305.7 L712.4,310.8 L709.2,315.9 L706.1,321.2 L703.1,326.5 L700.2,331.9 L697.4,337.3 L694.7,342.8 L692.2,348.3 L689.7,353.9 L687.3,359.5 L685.1,365.2 L682.9,370.9 L680.7,376.6 L678.7,382.3 L676.7,388.1 L674.7,393.8 L672.9,399.6 L671.0,405.3 L669.2,411.0 L667.5,416.7 L665.8,422.4 L664.0,428.1 L662.3,433.9 L660.6,439.6 L658.9,445.4 L657.2,451.1 L655.4,457.0 L653.7,462.8 L651.9,468.7 L650.0,474.6 L647.8,480.3 L645.1,485.5 L641.5,489.8 L636.8,493.1 L630.6,494.8 Z" fill="#1f77b4" fill-opacity="0.20" stroke="#1f77b4" stroke-opacity="0.30" stroke-width="1.2"/>
<path d="M631.2,462.0 L636.0,457.8 L640.0,453.1 L643.4,447.9 L646.4,442.3 L649.0,436.6 L651.3,430.6 L653.4,424.6 L655.3,418.4 L657.0,412.1 L658.7,405.8 L660.2,399.5 L661.8,393.1 L663.3,386.7 L664.9,380.4 L666.4,374.1 L668.1,367.8 L669.7,361.5 L671.4,355.2 L673.2,349.0 L675.0,342.8 L676.9,336.7 L678.8,330.5 L680.8,324.5 L683.0,318.4 L685.2,312.4 L687.5,306.4 L689.9,300.5 L692.4,294.6 L695.0,288.8 L697.8,283.1 L700.7,277.3 L703.7,271.7 L706.8,266.1 L710.2,260.5 L713.6,255.0 L717.2,249.6 L720.9,244.3 L724.8,239.0 L728.8,233.9 L732.9,228.8 L737.1,223.8 L741.4,218.9 L745.8,214.1 L750.3,209.4 L754.9,204.9 L759.6,200.4 L764.3,196.1 L769.2,192.0 L774.2,188.1 L779.4,184.4 L784.7,181.0 L790.2,177.9 L795.9,174.8 L801.6,172.0 L807.4,169.3 L813.3,166.7 L819.3,164.3 L825.3,161.9 L831.4,159.7 L837.6,157.6 L843.8,155.6 L850.0,153.6 L856.3,151.7 L862.5,149.9 L868.8,148.1 L875.0,146.4 L881.3,144.6 L887.5,142.9 L893.7,141.2 L899.9,139.5 L906.0,137.8 L912.1,136.1 L918.3,134.4 L924.5,132.8 L930.7,131.2 L936.9,129.6 L943.2,128.1 L949.6,126.6 L956.0,125.2" fill="none" stroke="#9467bd" stroke-width="6.5" stroke-linecap="butt" stroke-linejoin="round"/>
<path d="M631.1,462.0 L636.0,457.9 L640.1,453.2 L643.5,448.1 L646.5,442.6 L649.1,436.9 L651.4,431.0 L653.5,425.0 L655.4,418.9 L657.2,412.7 L658.8,406.4 L660.4,400.1 L661.9,393.8 L663.5,387.5 L665.1,381.2 L666.7,375.0 L668.3,368.7 L670.0,362.5 L671.8,356.3 L673.5,350.2 L675.4,344.1 L677.3,338.0 L679.3,331.9 L681.4,325.9 L683.6,320.0 L685.9,314.0 L688.2,308.1 L690.7,302.3 L693.2,296.5 L695.9,290.8 L698.7,285.1 L701.7,279.4 L704.8,273.8 L708.0,268.3 L711.3,262.9 L714.8,257.4 L718.4,252.1 L722.2,246.8 L726.1,241.7 L730.1,236.6 L734.2,231.5 L738.4,226.6 L742.7,221.8 L747.1,217.1 L751.6,212.5 L756.2,208.0 L760.8,203.6 L765.5,199.4 L770.4,195.3 L775.4,191.5 L780.6,187.9 L785.9,184.6 L791.4,181.5 L797.0,178.5 L802.7,175.7 L808.5,173.1 L814.4,170.6 L820.3,168.2 L826.3,165.9 L832.4,163.7 L838.5,161.6 L844.7,159.6 L850.8,157.7 L857.0,155.8 L863.3,154.0 L869.5,152.2 L875.7,150.5 L881.9,148.8 L888.0,147.1 L894.2,145.4 L900.3,143.7 L906.4,142.0 L912.5,140.3 L918.6,138.7 L924.7,137.0 L930.9,135.4 L937.1,133.9 L943.3,132.4 L949.6,130.9 L956.0,129.5" fill="none" stroke="#d62728" stroke-width="6.5" stroke-linecap="butt" stroke-linejoin="round"/>
<path d="M631.2,466.9 L636.0,462.9 L640.0,458.3 L643.5,453.2 L646.4,447.8 L649.0,442.0 L651.3,436.1 L653.4,430.1 L655.4,424.0 L657.2,417.9 L658.8,411.7 L660.5,405.4 L662.0,399.1 L663.6,392.9 L665.2,386.6 L666.8,380.4 L668.5,374.2 L670.2,368.0 L671.9,361.8 L673.8,355.7 L675.6,349.6 L677.6,343.5 L679.6,337.5 L681.7,331.5 L683.9,325.6 L686.2,319.6 L688.6,313.8 L691.1,308.0 L693.6,302.2 L696.3,296.5 L699.2,290.8 L702.1,285.2 L705.2,279.6 L708.4,274.1 L711.7,268.7 L715.2,263.3 L718.8,258.0 L722.6,252.8 L726.5,247.6 L730.5,242.5 L734.6,237.5 L738.8,232.6 L743.1,227.8 L747.5,223.2 L752.0,218.6 L756.6,214.1 L761.2,209.8 L765.9,205.5 L770.8,201.5 L775.7,197.7 L780.9,194.1 L786.2,190.8 L791.7,187.7 L797.2,184.8 L802.9,182.0 L808.7,179.4 L814.6,176.9 L820.5,174.5 L826.5,172.3 L832.6,170.2 L838.7,168.1 L844.9,166.2 L851.1,164.3 L857.3,162.5 L863.5,160.8 L869.7,159.1 L875.9,157.4 L882.1,155.8 L888.3,154.1 L894.4,152.5 L900.5,150.9 L906.6,149.2 L912.7,147.6 L918.8,146.0 L924.9,144.4 L931.0,142.8 L937.2,141.2 L943.4,139.6 L949.7,138.1 L956.0,136.5" fill="none" stroke="#ff7f0e" stroke-width="6.5" stroke-linecap="butt" stroke-linejoin="round"/>
<path d="M631.2,474.2 L636.1,470.6 L640.2,466.4 L643.6,461.5 L646.5,456.2 L649.0,450.6 L651.2,444.7 L653.2,438.8 L655.1,432.8 L656.9,426.7 L658.7,420.7 L660.4,414.6 L662.1,408.6 L663.8,402.5 L665.4,396.5 L667.1,390.4 L668.7,384.4 L670.4,378.3 L672.2,372.3 L674.0,366.3 L675.9,360.4 L677.9,354.4 L680.0,348.5 L682.2,342.7 L684.4,336.9 L686.8,331.1 L689.3,325.3 L691.8,319.7 L694.5,314.0 L697.3,308.5 L700.2,303.0 L703.2,297.5 L706.3,292.1 L709.5,286.8 L712.9,281.6 L716.4,276.4 L720.0,271.3 L723.7,266.3 L727.5,261.4 L731.5,256.6 L735.6,251.9 L739.8,247.3 L744.2,242.7 L748.7,238.3 L753.3,234.0 L757.9,229.7 L762.7,225.6 L767.5,221.6 L772.4,217.8 L777.5,214.3 L782.7,211.0 L788.1,208.0 L793.7,205.3 L799.3,202.7 L805.0,200.3 L810.8,198.1 L816.6,195.9 L822.5,193.9 L828.4,192.0 L834.4,190.2 L840.4,188.5 L846.4,186.8 L852.5,185.2 L858.6,183.7 L864.7,182.2 L870.8,180.8 L876.9,179.4 L883.1,178.1 L889.2,176.7 L895.4,175.4 L901.5,174.0 L907.6,172.7 L913.8,171.3 L919.9,169.9 L926.0,168.5 L932.0,167.0 L938.0,165.5 L944.0,163.9 L950.0,162.2 L955.9,160.5" fill="none" stroke="#2ca02c" stroke-width="6.5" stroke-linecap="butt" stroke-linejoin="round"/>
<path d="M630.6,491.8 L636.8,489.7 L641.5,486.2 L645.1,481.6 L647.8,476.3 L650.0,470.4 L651.9,464.4 L653.7,458.4 L655.4,452.5 L657.2,446.6 L658.9,440.7 L660.6,434.9 L662.3,429.0 L664.0,423.2 L665.8,417.4 L667.5,411.6 L669.2,405.8 L671.0,399.9 L672.9,394.1 L674.7,388.3 L676.7,382.4 L678.7,376.6 L680.7,370.7 L682.9,364.9 L685.1,359.0 L687.3,353.2 L689.7,347.5 L692.2,341.7 L694.7,336.1 L697.4,330.5 L700.2,324.9 L703.1,319.4 L706.1,314.0 L709.2,308.7 L712.4,303.5 L715.8,298.4 L719.3,293.4 L723.0,288.6 L726.8,283.8 L730.8,279.2 L734.9,274.8 L739.2,270.5 L743.7,266.3 L748.3,262.3 L753.0,258.5 L757.9,254.8 L762.9,251.3 L768.0,247.9 L773.2,244.7 L778.6,241.7 L784.0,238.8 L789.5,236.1 L795.1,233.5 L800.7,231.1 L806.5,228.9 L812.2,226.8 L818.0,224.9 L823.9,223.1 L829.8,221.5 L835.7,219.9 L841.7,218.5 L847.7,217.1 L853.7,215.8 L859.7,214.6 L865.8,213.4 L871.9,212.3 L877.9,211.2 L884.0,210.1 L890.1,209.0 L896.2,207.9 L902.3,206.8 L908.3,205.6 L914.4,204.4 L920.4,203.1 L926.4,201.7 L932.3,200.3 L938.3,198.8 L944.2,197.1 L950.1,195.3 L955.9,193.4" fill="none" stroke="#1f77b4" stroke-width="6.5" stroke-linecap="butt" stroke-linejoin="round"/>
<line x1="1106.4" y1="100.5" x2="1106.4" y2="517.0" stroke="#000" stroke-width="2.0" stroke-dasharray="6.6 3.66" stroke-dashoffset="0.0"/>
<line x1="1153.0" y1="138.1" x2="1153.0" y2="517.0" stroke="#000" stroke-width="3.0" stroke-dasharray="6.6 3.66" stroke-dashoffset="5.5"/>
<line x1="1270.6" y1="100.4" x2="1270.6" y2="517.0" stroke="#000" stroke-width="3.0" stroke-dasharray="6.6 3.66" stroke-dashoffset="0.0"/>
<path d="M1106.6,450.9 L1113.0,449.6 L1116.6,444.8 L1119.3,439.2 L1121.8,433.5 L1124.0,427.7 L1126.1,421.8 L1127.9,415.9 L1129.6,409.8 L1131.3,403.8 L1132.8,397.7 L1134.2,391.5 L1135.6,385.4 L1137.0,379.2 L1138.5,373.0 L1139.9,366.8 L1141.5,360.5 L1143.1,354.3 L1144.8,348.1 L1146.6,341.9 L1148.5,335.8 L1150.5,329.7 L1152.6,323.6 L1154.8,317.6 L1157.1,311.6 L1159.6,305.7 L1162.1,299.9 L1164.8,294.1 L1167.6,288.4 L1170.6,282.8 L1173.7,277.3 L1176.9,271.9 L1180.3,266.6 L1183.8,261.5 L1187.5,256.4 L1191.4,251.5 L1195.4,246.7 L1199.5,242.1 L1203.9,237.6 L1208.4,233.2 L1213.1,229.0 L1217.8,224.9 L1222.8,220.9 L1227.8,217.1 L1232.9,213.3 L1238.2,209.7 L1243.5,206.1 L1248.9,202.7 L1254.4,199.3 L1259.9,196.0 L1265.5,192.7 L1271.1,189.6 L1276.7,186.5 L1282.4,183.4 L1288.1,180.4 L1293.8,177.5 L1299.5,174.6 L1305.1,171.7 L1310.8,168.8 L1316.5,166.0 L1322.1,163.3 L1327.8,160.5 L1333.5,157.8 L1339.2,155.2 L1344.9,152.5 L1350.6,150.0 L1356.3,147.4 L1362.0,144.9 L1367.8,142.4 L1373.6,139.9 L1379.4,137.5 L1385.2,135.1 L1391.1,132.7 L1397.0,130.3 L1402.9,128.0 L1408.8,125.7 L1414.8,123.5 L1420.9,121.2 L1426.9,119.0 L1433.1,116.8 L1433.1,126.0 L1426.9,128.2 L1420.9,130.4 L1414.8,132.7 L1408.8,134.9 L1402.9,137.2 L1397.0,139.5 L1391.1,141.9 L1385.2,144.3 L1379.4,146.7 L1373.6,149.1 L1367.8,151.6 L1362.0,154.1 L1356.3,156.6 L1350.6,159.2 L1344.9,161.7 L1339.2,164.4 L1333.5,167.0 L1327.8,169.7 L1322.1,172.5 L1316.5,175.2 L1310.8,178.0 L1305.1,180.9 L1299.5,183.8 L1293.8,186.7 L1288.1,189.6 L1282.4,192.6 L1276.7,195.7 L1271.1,198.8 L1265.5,201.9 L1259.9,205.2 L1254.4,208.5 L1248.9,211.9 L1243.5,215.3 L1238.2,218.9 L1232.9,222.5 L1227.8,226.3 L1222.8,230.1 L1217.8,234.1 L1213.1,238.2 L1208.4,242.4 L1203.9,246.8 L1199.5,251.3 L1195.4,255.9 L1191.4,260.7 L1187.5,265.6 L1183.8,270.7 L1180.3,275.8 L1176.9,281.1 L1173.7,286.5 L1170.6,292.0 L1167.6,297.6 L1164.8,303.3 L1162.1,309.1 L1159.6,314.9 L1157.1,320.8 L1154.8,326.8 L1152.6,332.8 L1150.5,338.9 L1148.5,345.0 L1146.6,351.1 L1144.8,357.3 L1143.1,363.5 L1141.5,369.7 L1139.9,376.0 L1138.5,382.2 L1137.0,388.4 L1135.6,394.6 L1134.2,400.7 L1132.8,406.9 L1131.3,413.0 L1129.6,419.0 L1127.9,425.1 L1126.1,431.0 L1124.0,436.9 L1121.8,442.7 L1119.3,448.4 L1116.6,454.0 L1113.0,458.8 L1106.6,460.1 Z" fill="#9467bd" fill-opacity="0.15" stroke="#9467bd" stroke-opacity="0.10" stroke-width="1.2"/>
<path d="M1107.2,468.2 L1111.8,464.8 L1115.5,460.2 L1118.6,455.0 L1121.4,449.6 L1123.8,444.1 L1126.0,438.5 L1128.0,432.7 L1129.8,426.9 L1131.5,421.0 L1133.1,415.1 L1134.6,409.1 L1136.1,403.1 L1137.6,397.0 L1139.2,391.0 L1140.8,384.9 L1142.5,378.9 L1144.3,372.9 L1146.1,366.9 L1148.1,360.9 L1150.1,355.0 L1152.3,349.1 L1154.5,343.2 L1156.8,337.4 L1159.2,331.7 L1161.8,326.0 L1164.5,320.5 L1167.2,315.0 L1170.1,309.5 L1173.2,304.2 L1176.4,299.0 L1179.7,293.9 L1183.1,288.9 L1186.7,284.0 L1190.5,279.2 L1194.4,274.6 L1198.5,270.1 L1202.7,265.8 L1207.1,261.6 L1211.7,257.6 L1216.4,253.7 L1221.2,249.9 L1226.1,246.3 L1231.2,242.7 L1236.4,239.3 L1241.6,235.9 L1247.0,232.7 L1252.4,229.5 L1257.8,226.4 L1263.3,223.4 L1268.9,220.4 L1274.5,217.5 L1280.1,214.7 L1285.7,211.8 L1291.3,209.0 L1296.8,206.3 L1302.4,203.5 L1308.0,200.8 L1313.5,198.1 L1319.1,195.4 L1324.6,192.8 L1330.1,190.2 L1335.7,187.6 L1341.2,185.0 L1346.7,182.5 L1352.3,180.0 L1357.9,177.5 L1363.5,175.1 L1369.1,172.7 L1374.7,170.4 L1380.4,168.0 L1386.1,165.8 L1391.8,163.5 L1397.6,161.3 L1403.4,159.2 L1409.3,157.1 L1415.2,155.0 L1421.1,153.0 L1427.1,151.0 L1433.2,149.0 L1433.2,158.2 L1427.1,160.2 L1421.1,162.2 L1415.2,164.2 L1409.3,166.3 L1403.4,168.4 L1397.6,170.5 L1391.8,172.7 L1386.1,175.0 L1380.4,177.2 L1374.7,179.6 L1369.1,181.9 L1363.5,184.3 L1357.9,186.7 L1352.3,189.2 L1346.7,191.7 L1341.2,194.2 L1335.7,196.8 L1330.1,199.4 L1324.6,202.0 L1319.1,204.6 L1313.5,207.3 L1308.0,210.0 L1302.4,212.7 L1296.8,215.5 L1291.3,218.2 L1285.7,221.0 L1280.1,223.9 L1274.5,226.7 L1268.9,229.6 L1263.3,232.6 L1257.8,235.6 L1252.4,238.7 L1247.0,241.9 L1241.6,245.1 L1236.4,248.5 L1231.2,251.9 L1226.1,255.5 L1221.2,259.1 L1216.4,262.9 L1211.7,266.8 L1207.1,270.8 L1202.7,275.0 L1198.5,279.3 L1194.4,283.8 L1190.5,288.4 L1186.7,293.2 L1183.1,298.1 L1179.7,303.1 L1176.4,308.2 L1173.2,313.4 L1170.1,318.7 L1167.2,324.2 L1164.5,329.7 L1161.8,335.2 L1159.2,340.9 L1156.8,346.6 L1154.5,352.4 L1152.3,358.3 L1150.1,364.2 L1148.1,370.1 L1146.1,376.1 L1144.3,382.1 L1142.5,388.1 L1140.8,394.1 L1139.2,400.2 L1137.6,406.2 L1136.1,412.3 L1134.6,418.3 L1133.1,424.3 L1131.5,430.2 L1129.8,436.1 L1128.0,441.9 L1126.0,447.7 L1123.8,453.3 L1121.4,458.8 L1118.6,464.2 L1115.5,469.4 L1111.8,474.0 L1107.2,477.4 Z" fill="#d62728" fill-opacity="0.15" stroke="#d62728" stroke-opacity="0.10" stroke-width="1.2"/>
<path d="M1107.5,479.6 L1112.0,475.8 L1115.8,471.4 L1118.9,466.6 L1121.6,461.5 L1123.8,456.1 L1125.8,450.6 L1127.7,444.9 L1129.5,439.1 L1131.2,433.4 L1132.9,427.6 L1134.6,421.7 L1136.2,415.9 L1137.9,410.0 L1139.6,404.2 L1141.3,398.3 L1143.0,392.4 L1144.7,386.6 L1146.6,380.8 L1148.4,375.0 L1150.4,369.2 L1152.4,363.5 L1154.5,357.8 L1156.7,352.2 L1159.0,346.6 L1161.4,341.2 L1164.0,335.7 L1166.7,330.4 L1169.5,325.1 L1172.5,320.0 L1175.7,314.9 L1179.0,309.9 L1182.6,305.1 L1186.3,300.3 L1190.2,295.7 L1194.3,291.3 L1198.5,287.0 L1202.9,282.8 L1207.5,278.8 L1212.2,275.0 L1217.0,271.3 L1222.0,267.9 L1227.0,264.7 L1232.2,261.6 L1237.5,258.7 L1242.8,255.9 L1248.2,253.2 L1253.6,250.6 L1259.0,248.0 L1264.5,245.4 L1269.9,242.9 L1275.4,240.4 L1281.0,237.9 L1286.5,235.5 L1292.0,233.0 L1297.5,230.6 L1303.0,228.1 L1308.5,225.6 L1314.0,223.2 L1319.5,220.7 L1325.1,218.3 L1330.6,215.9 L1336.1,213.5 L1341.7,211.1 L1347.2,208.8 L1352.8,206.5 L1358.4,204.2 L1364.0,202.0 L1369.6,199.9 L1375.2,197.8 L1380.9,195.7 L1386.6,193.8 L1392.3,191.8 L1398.1,190.0 L1403.8,188.2 L1409.6,186.6 L1415.5,185.0 L1421.3,183.4 L1427.2,182.0 L1433.2,180.7 L1433.2,189.9 L1427.2,191.2 L1421.3,192.6 L1415.5,194.2 L1409.6,195.8 L1403.8,197.4 L1398.1,199.2 L1392.3,201.0 L1386.6,203.0 L1380.9,204.9 L1375.2,207.0 L1369.6,209.1 L1364.0,211.2 L1358.4,213.4 L1352.8,215.7 L1347.2,218.0 L1341.7,220.3 L1336.1,222.7 L1330.6,225.1 L1325.1,227.5 L1319.5,229.9 L1314.0,232.4 L1308.5,234.8 L1303.0,237.3 L1297.5,239.8 L1292.0,242.2 L1286.5,244.7 L1281.0,247.1 L1275.4,249.6 L1269.9,252.1 L1264.5,254.6 L1259.0,257.2 L1253.6,259.8 L1248.2,262.4 L1242.8,265.1 L1237.5,267.9 L1232.2,270.8 L1227.0,273.9 L1222.0,277.1 L1217.0,280.5 L1212.2,284.2 L1207.5,288.0 L1202.9,292.0 L1198.5,296.2 L1194.3,300.5 L1190.2,304.9 L1186.3,309.5 L1182.6,314.3 L1179.0,319.1 L1175.7,324.1 L1172.5,329.2 L1169.5,334.3 L1166.7,339.6 L1164.0,344.9 L1161.4,350.4 L1159.0,355.8 L1156.7,361.4 L1154.5,367.0 L1152.4,372.7 L1150.4,378.4 L1148.4,384.2 L1146.6,390.0 L1144.7,395.8 L1143.0,401.6 L1141.3,407.5 L1139.6,413.4 L1137.9,419.2 L1136.2,425.1 L1134.6,430.9 L1132.9,436.8 L1131.2,442.6 L1129.5,448.3 L1127.7,454.1 L1125.8,459.8 L1123.8,465.3 L1121.6,470.7 L1118.9,475.8 L1115.8,480.6 L1112.0,485.0 L1107.5,488.8 Z" fill="#2ca02c" fill-opacity="0.15" stroke="#2ca02c" stroke-opacity="0.10" stroke-width="1.2"/>
<path d="M1107.0,491.4 L1112.1,488.6 L1116.3,484.9 L1119.8,480.5 L1122.8,475.6 L1125.2,470.3 L1127.4,464.8 L1129.3,459.1 L1131.1,453.5 L1132.7,447.7 L1134.2,441.9 L1135.7,436.1 L1137.1,430.3 L1138.6,424.5 L1140.1,418.7 L1141.6,412.9 L1143.2,407.2 L1144.9,401.5 L1146.6,395.9 L1148.5,390.2 L1150.4,384.6 L1152.5,379.1 L1154.7,373.6 L1157.0,368.2 L1159.4,362.8 L1162.0,357.4 L1164.7,352.2 L1167.6,347.0 L1170.6,341.8 L1173.7,336.8 L1177.0,331.9 L1180.4,327.0 L1184.0,322.3 L1187.7,317.7 L1191.6,313.3 L1195.6,308.9 L1199.7,304.7 L1204.0,300.7 L1208.4,296.8 L1212.9,293.1 L1217.6,289.6 L1222.4,286.2 L1227.4,283.1 L1232.5,280.1 L1237.7,277.3 L1243.0,274.6 L1248.4,272.1 L1253.9,269.6 L1259.4,267.3 L1265.0,265.1 L1270.6,262.9 L1276.2,260.8 L1281.9,258.7 L1287.5,256.6 L1293.1,254.5 L1298.7,252.4 L1304.3,250.2 L1309.9,248.1 L1315.4,246.0 L1320.9,243.9 L1326.4,241.7 L1331.9,239.6 L1337.5,237.5 L1343.0,235.4 L1348.5,233.4 L1354.0,231.3 L1359.5,229.3 L1365.0,227.3 L1370.6,225.3 L1376.1,223.3 L1381.7,221.4 L1387.3,219.6 L1392.9,217.7 L1398.6,216.0 L1404.2,214.2 L1409.9,212.5 L1415.7,210.9 L1421.5,209.3 L1427.3,207.8 L1433.2,206.4 L1433.2,215.6 L1427.3,217.0 L1421.5,218.5 L1415.7,220.1 L1409.9,221.7 L1404.2,223.4 L1398.6,225.2 L1392.9,226.9 L1387.3,228.8 L1381.7,230.6 L1376.1,232.5 L1370.6,234.5 L1365.0,236.5 L1359.5,238.5 L1354.0,240.5 L1348.5,242.6 L1343.0,244.6 L1337.5,246.7 L1331.9,248.8 L1326.4,250.9 L1320.9,253.1 L1315.4,255.2 L1309.9,257.3 L1304.3,259.4 L1298.7,261.6 L1293.1,263.7 L1287.5,265.8 L1281.9,267.9 L1276.2,270.0 L1270.6,272.1 L1265.0,274.3 L1259.4,276.5 L1253.9,278.8 L1248.4,281.3 L1243.0,283.8 L1237.7,286.5 L1232.5,289.3 L1227.4,292.3 L1222.4,295.4 L1217.6,298.8 L1212.9,302.3 L1208.4,306.0 L1204.0,309.9 L1199.7,313.9 L1195.6,318.1 L1191.6,322.5 L1187.7,326.9 L1184.0,331.5 L1180.4,336.2 L1177.0,341.1 L1173.7,346.0 L1170.6,351.0 L1167.6,356.2 L1164.7,361.4 L1162.0,366.6 L1159.4,372.0 L1157.0,377.4 L1154.7,382.8 L1152.5,388.3 L1150.4,393.8 L1148.5,399.4 L1146.6,405.1 L1144.9,410.7 L1143.2,416.4 L1141.6,422.1 L1140.1,427.9 L1138.6,433.7 L1137.1,439.5 L1135.7,445.3 L1134.2,451.1 L1132.7,456.9 L1131.1,462.7 L1129.3,468.3 L1127.4,474.0 L1125.2,479.5 L1122.8,484.8 L1119.8,489.7 L1116.3,494.1 L1112.1,497.8 L1107.0,500.6 Z" fill="#1f77b4" fill-opacity="0.15" stroke="#1f77b4" stroke-opacity="0.10" stroke-width="1.2"/>
<path d="M1106.6,455.5 L1113.0,454.2 L1116.6,449.4 L1119.3,443.8 L1121.8,438.1 L1124.0,432.3 L1126.1,426.4 L1127.9,420.5 L1129.6,414.4 L1131.3,408.4 L1132.8,402.3 L1134.2,396.1 L1135.6,390.0 L1137.0,383.8 L1138.5,377.6 L1139.9,371.4 L1141.5,365.1 L1143.1,358.9 L1144.8,352.7 L1146.6,346.5 L1148.5,340.4 L1150.5,334.3 L1152.6,328.2 L1154.8,322.2 L1157.1,316.2 L1159.6,310.3 L1162.1,304.5 L1164.8,298.7 L1167.6,293.0 L1170.6,287.4 L1173.7,281.9 L1176.9,276.5 L1180.3,271.2 L1183.8,266.1 L1187.5,261.0 L1191.4,256.1 L1195.4,251.3 L1199.5,246.7 L1203.9,242.2 L1208.4,237.8 L1213.1,233.6 L1217.8,229.5 L1222.8,225.5 L1227.8,221.7 L1232.9,217.9 L1238.2,214.3 L1243.5,210.7 L1248.9,207.3 L1254.4,203.9 L1259.9,200.6 L1265.5,197.3 L1271.1,194.2 L1276.7,191.1 L1282.4,188.0 L1288.1,185.0 L1293.8,182.1 L1299.5,179.2 L1305.1,176.3 L1310.8,173.4 L1316.5,170.6 L1322.1,167.9 L1327.8,165.1 L1333.5,162.4 L1339.2,159.8 L1344.9,157.1 L1350.6,154.6 L1356.3,152.0 L1362.0,149.5 L1367.8,147.0 L1373.6,144.5 L1379.4,142.1 L1385.2,139.7 L1391.1,137.3 L1397.0,134.9 L1402.9,132.6 L1408.8,130.3 L1414.8,128.1 L1420.9,125.8 L1426.9,123.6 L1433.1,121.4" fill="none" stroke="#9467bd" stroke-width="5.9" stroke-linecap="butt" stroke-linejoin="round"/>
<path d="M1107.2,472.8 L1111.8,469.4 L1115.5,464.8 L1118.6,459.6 L1121.4,454.2 L1123.8,448.7 L1126.0,443.1 L1128.0,437.3 L1129.8,431.5 L1131.5,425.6 L1133.1,419.7 L1134.6,413.7 L1136.1,407.7 L1137.6,401.6 L1139.2,395.6 L1140.8,389.5 L1142.5,383.5 L1144.3,377.5 L1146.1,371.5 L1148.1,365.5 L1150.1,359.6 L1152.3,353.7 L1154.5,347.8 L1156.8,342.0 L1159.2,336.3 L1161.8,330.6 L1164.5,325.1 L1167.2,319.6 L1170.1,314.1 L1173.2,308.8 L1176.4,303.6 L1179.7,298.5 L1183.1,293.5 L1186.7,288.6 L1190.5,283.8 L1194.4,279.2 L1198.5,274.7 L1202.7,270.4 L1207.1,266.2 L1211.7,262.2 L1216.4,258.3 L1221.2,254.5 L1226.1,250.9 L1231.2,247.3 L1236.4,243.9 L1241.6,240.5 L1247.0,237.3 L1252.4,234.1 L1257.8,231.0 L1263.3,228.0 L1268.9,225.0 L1274.5,222.1 L1280.1,219.3 L1285.7,216.4 L1291.3,213.6 L1296.8,210.9 L1302.4,208.1 L1308.0,205.4 L1313.5,202.7 L1319.1,200.0 L1324.6,197.4 L1330.1,194.8 L1335.7,192.2 L1341.2,189.6 L1346.7,187.1 L1352.3,184.6 L1357.9,182.1 L1363.5,179.7 L1369.1,177.3 L1374.7,175.0 L1380.4,172.6 L1386.1,170.4 L1391.8,168.1 L1397.6,165.9 L1403.4,163.8 L1409.3,161.7 L1415.2,159.6 L1421.1,157.6 L1427.1,155.6 L1433.2,153.6" fill="none" stroke="#d62728" stroke-width="5.9" stroke-linecap="butt" stroke-linejoin="round"/>
<path d="M1107.5,484.2 L1112.0,480.4 L1115.8,476.0 L1118.9,471.2 L1121.6,466.1 L1123.8,460.7 L1125.8,455.2 L1127.7,449.5 L1129.5,443.7 L1131.2,438.0 L1132.9,432.2 L1134.6,426.3 L1136.2,420.5 L1137.9,414.6 L1139.6,408.8 L1141.3,402.9 L1143.0,397.0 L1144.7,391.2 L1146.6,385.4 L1148.4,379.6 L1150.4,373.8 L1152.4,368.1 L1154.5,362.4 L1156.7,356.8 L1159.0,351.2 L1161.4,345.8 L1164.0,340.3 L1166.7,335.0 L1169.5,329.7 L1172.5,324.6 L1175.7,319.5 L1179.0,314.5 L1182.6,309.7 L1186.3,304.9 L1190.2,300.3 L1194.3,295.9 L1198.5,291.6 L1202.9,287.4 L1207.5,283.4 L1212.2,279.6 L1217.0,275.9 L1222.0,272.5 L1227.0,269.3 L1232.2,266.2 L1237.5,263.3 L1242.8,260.5 L1248.2,257.8 L1253.6,255.2 L1259.0,252.6 L1264.5,250.0 L1269.9,247.5 L1275.4,245.0 L1281.0,242.5 L1286.5,240.1 L1292.0,237.6 L1297.5,235.2 L1303.0,232.7 L1308.5,230.2 L1314.0,227.8 L1319.5,225.3 L1325.1,222.9 L1330.6,220.5 L1336.1,218.1 L1341.7,215.7 L1347.2,213.4 L1352.8,211.1 L1358.4,208.8 L1364.0,206.6 L1369.6,204.5 L1375.2,202.4 L1380.9,200.3 L1386.6,198.4 L1392.3,196.4 L1398.1,194.6 L1403.8,192.8 L1409.6,191.2 L1415.5,189.6 L1421.3,188.0 L1427.2,186.6 L1433.2,185.3" fill="none" stroke="#2ca02c" stroke-width="5.9" stroke-linecap="butt" stroke-linejoin="round"/>
<path d="M1107.0,496.0 L1112.1,493.2 L1116.3,489.5 L1119.8,485.1 L1122.8,480.2 L1125.2,474.9 L1127.4,469.4 L1129.3,463.7 L1131.1,458.1 L1132.7,452.3 L1134.2,446.5 L1135.7,440.7 L1137.1,434.9 L1138.6,429.1 L1140.1,423.3 L1141.6,417.5 L1143.2,411.8 L1144.9,406.1 L1146.6,400.5 L1148.5,394.8 L1150.4,389.2 L1152.5,383.7 L1154.7,378.2 L1157.0,372.8 L1159.4,367.4 L1162.0,362.0 L1164.7,356.8 L1167.6,351.6 L1170.6,346.4 L1173.7,341.4 L1177.0,336.5 L1180.4,331.6 L1184.0,326.9 L1187.7,322.3 L1191.6,317.9 L1195.6,313.5 L1199.7,309.3 L1204.0,305.3 L1208.4,301.4 L1212.9,297.7 L1217.6,294.2 L1222.4,290.8 L1227.4,287.7 L1232.5,284.7 L1237.7,281.9 L1243.0,279.2 L1248.4,276.7 L1253.9,274.2 L1259.4,271.9 L1265.0,269.7 L1270.6,267.5 L1276.2,265.4 L1281.9,263.3 L1287.5,261.2 L1293.1,259.1 L1298.7,257.0 L1304.3,254.8 L1309.9,252.7 L1315.4,250.6 L1320.9,248.5 L1326.4,246.3 L1331.9,244.2 L1337.5,242.1 L1343.0,240.0 L1348.5,238.0 L1354.0,235.9 L1359.5,233.9 L1365.0,231.9 L1370.6,229.9 L1376.1,227.9 L1381.7,226.0 L1387.3,224.2 L1392.9,222.3 L1398.6,220.6 L1404.2,218.8 L1409.9,217.1 L1415.7,215.5 L1421.5,213.9 L1427.3,212.4 L1433.2,211.0" fill="none" stroke="#1f77b4" stroke-width="5.9" stroke-linecap="butt" stroke-linejoin="round"/>
<path d="M117.2,97.5 L117.2,517 L491.5,517" fill="none" stroke="#000" stroke-width="3.2" stroke-linejoin="miter" stroke-linecap="square"/>
<path d="M596.2,97.5 L596.2,517 L970.5,517" fill="none" stroke="#000" stroke-width="3.2" stroke-linejoin="miter" stroke-linecap="square"/>
<path d="M1073.0,97.5 L1073.0,517 L1447.5,517" fill="none" stroke="#000" stroke-width="3.2" stroke-linejoin="miter" stroke-linecap="square"/>
<line x1="104.5" y1="139.8" x2="116.0" y2="139.8" stroke="#000" stroke-width="2.8"/>
<line x1="104.5" y1="208.9" x2="116.0" y2="208.9" stroke="#000" stroke-width="2.8"/>
<line x1="104.5" y1="327.3" x2="116.0" y2="327.3" stroke="#000" stroke-width="2.8"/>
<line x1="109.5" y1="345.2" x2="116.0" y2="345.2" stroke="#000" stroke-width="1.8"/>
<line x1="109.5" y1="365.3" x2="116.0" y2="365.3" stroke="#000" stroke-width="1.8"/>
<line x1="109.5" y1="388.2" x2="116.0" y2="388.2" stroke="#000" stroke-width="1.8"/>
<line x1="109.5" y1="414.5" x2="116.0" y2="414.5" stroke="#000" stroke-width="1.8"/>
<line x1="109.5" y1="445.7" x2="116.0" y2="445.7" stroke="#000" stroke-width="1.8"/>
<line x1="109.5" y1="483.9" x2="116.0" y2="483.9" stroke="#000" stroke-width="1.8"/>
<text x="95.5" y="148.4" font-size="25.4" text-anchor="end">30</text>
<text x="95.5" y="217.5" font-size="25.4" text-anchor="end">20</text>
<text x="95.5" y="335.9" font-size="25.4" text-anchor="end">10</text>
<line x1="583.5" y1="116.5" x2="595.0" y2="116.5" stroke="#000" stroke-width="2.8"/>
<line x1="583.5" y1="183.6" x2="595.0" y2="183.6" stroke="#000" stroke-width="2.8"/>
<line x1="583.5" y1="278.3" x2="595.0" y2="278.3" stroke="#000" stroke-width="2.8"/>
<line x1="583.5" y1="440.1" x2="595.0" y2="440.1" stroke="#000" stroke-width="2.8"/>
<line x1="588.5" y1="464.7" x2="595.0" y2="464.7" stroke="#000" stroke-width="1.8"/>
<line x1="588.5" y1="491.8" x2="595.0" y2="491.8" stroke="#000" stroke-width="1.8"/>
<text x="575.5" y="125.1" font-size="25.4" text-anchor="end">40</text>
<text x="575.5" y="192.2" font-size="25.4" text-anchor="end">30</text>
<text x="575.5" y="286.8" font-size="25.4" text-anchor="end">20</text>
<text x="575.5" y="448.7" font-size="25.4" text-anchor="end">10</text>
<line x1="1065.3" y1="106.6" x2="1072.0" y2="106.6" stroke="#000" stroke-width="1.8"/>
<line x1="1065.3" y1="180.4" x2="1072.0" y2="180.4" stroke="#000" stroke-width="1.8"/>
<line x1="1065.3" y1="219.4" x2="1072.0" y2="219.4" stroke="#000" stroke-width="1.8"/>
<line x1="1065.3" y1="266.5" x2="1072.0" y2="266.5" stroke="#000" stroke-width="1.8"/>
<line x1="1065.3" y1="395.8" x2="1072.0" y2="395.8" stroke="#000" stroke-width="1.8"/>
<line x1="1065.3" y1="145.9" x2="1072.0" y2="145.9" stroke="#000" stroke-width="2.2"/>
<line x1="1065.3" y1="323.0" x2="1072.0" y2="323.0" stroke="#000" stroke-width="2.2"/>
<line x1="1065.3" y1="501.2" x2="1072.0" y2="501.2" stroke="#000" stroke-width="2.2"/>
<text x="1057.0" y="154.5" font-size="25.4" text-anchor="end">80</text>
<text x="1057.0" y="331.6" font-size="25.4" text-anchor="end">40</text>
<text x="1057.0" y="509.8" font-size="25.4" text-anchor="end">20</text>
<text x="135.5" y="548" font-size="25.4" text-anchor="middle">0</text>
<text x="274.3" y="548" font-size="25.4" text-anchor="middle">2</text>
<text x="413.0" y="548" font-size="25.4" text-anchor="middle">4</text>
<text x="608.9" y="548" font-size="25.4" text-anchor="middle">0</text>
<text x="780.8" y="548" font-size="25.4" text-anchor="middle">5</text>
<text x="939.7" y="548" font-size="25.4" text-anchor="middle">10</text>
<text x="1088.2" y="548" font-size="25.4" text-anchor="middle">0</text>
<text x="1224.6" y="548" font-size="25.4" text-anchor="middle">10</text>
<text x="1358.7" y="548" font-size="25.4" text-anchor="middle">20</text>
<text x="302.1" y="591" font-size="29.2" text-anchor="middle">Ensemble std dev</text>
<text x="781.0" y="591" font-size="29.2" text-anchor="middle">Ensemble std dev</text>
<text x="1258.3" y="591" font-size="29.2" text-anchor="middle">Ensemble std dev</text>
<text transform="translate(24.3,309.2) rotate(-90)" font-size="29.6" text-anchor="middle">Pixel error</text>
<g fill="#222"><text x="369.5" y="428.2" font-size="28" font-style="italic" style="fill:#000">% labels</text>
<text x="369.5" y="457.8" font-size="28" font-style="italic" style="fill:#000">in error</text>
<text x="369.5" y="487.5" font-size="28" font-style="italic" style="fill:#000">computation</text></g>
<line x1="327.6" y1="419.8" x2="362.8" y2="419.8" stroke="#000" stroke-width="2" stroke-dasharray="3 2.3"/>
<path d="M314.6,419.8 L326.6,412.6 L326.6,427.1 Z" fill="#000"/>
<text x="155.5" y="639" font-size="29" font-style="italic" style="fill:#000">"harder" keypoints</text>
<line x1="404.5" y1="630.9" x2="468" y2="630.9" stroke="#3a3a3a" stroke-width="1.7"/>
<path d="M479.5,630.9 L466.3,623.5 L466.3,638.3 Z" fill="#000"/>
<text x="1668.1" y="137.3" font-size="29.2" text-anchor="middle">Unsupervised losses</text>
<line x1="1500.4" y1="187.0" x2="1577.5" y2="187.0" stroke="#9467bd" stroke-width="6.3"/>
<text x="1601.3" y="199.1" font-size="29.2">None (supervised)</text>
<line x1="1500.4" y1="237.3" x2="1577.5" y2="237.3" stroke="#d62728" stroke-width="6.3"/>
<text x="1601.3" y="249.5" font-size="29.2">Temporal</text>
<line x1="1500.4" y1="291.3" x2="1577.5" y2="291.3" stroke="#ff7f0e" stroke-width="6.3"/>
<text x="1601.3" y="303.6" font-size="29.2">Multi-view PCA</text>
<line x1="1500.4" y1="341.9" x2="1577.5" y2="341.9" stroke="#2ca02c" stroke-width="6.3"/>
<text x="1601.3" y="353.5" font-size="29.2">Pose PCA</text>
<line x1="1500.4" y1="393.0" x2="1577.5" y2="393.0" stroke="#1f77b4" stroke-width="6.3"/>
<text x="1601.3" y="404.6" font-size="29.2">Combined</text>
</svg></body></html>
